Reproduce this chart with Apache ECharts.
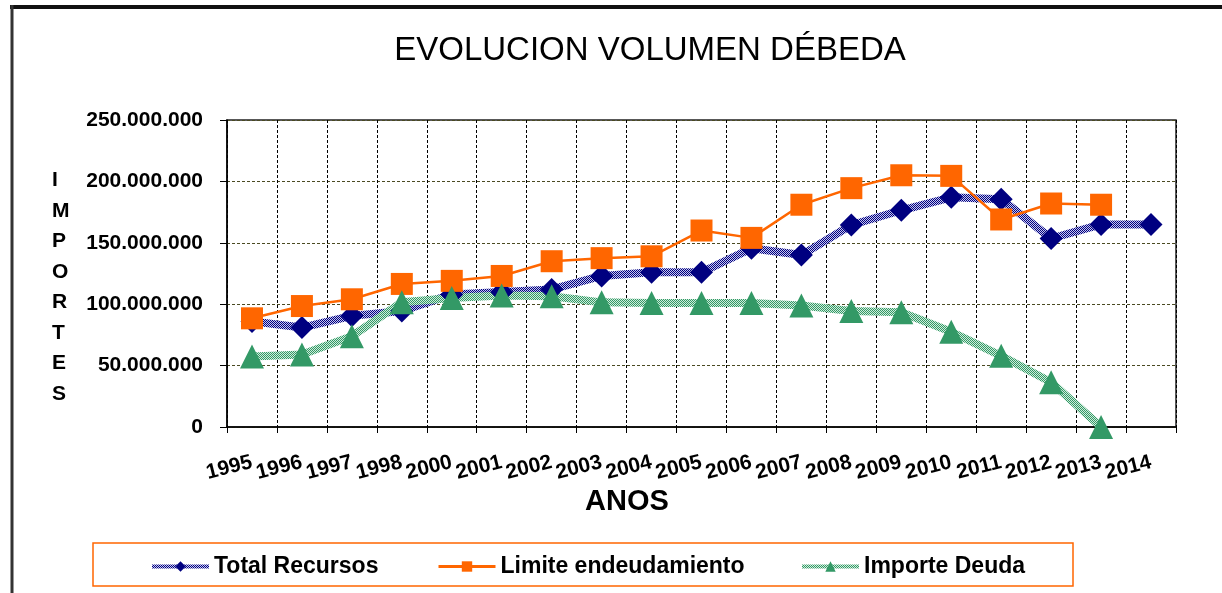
<!DOCTYPE html>
<html>
<head>
<meta charset="utf-8">
<script src="https://cdn.jsdelivr.net/npm/echarts@6/dist/echarts.min.js"></script>
<style>
  html, body { margin: 0; padding: 0; background: #fff; }
  #chart { width: 1222px; height: 593px; }
</style>
</head>
<body>
<div id="chart"></div>
<script>
// categorias (falta 1999 en el original)
var categories = ['1995', '1996', '1997', '1998', '2000', '2001', '2002', '2003', '2004', '2005',
  '2006', '2007', '2008', '2009', '2010', '2011', '2012', '2013', '2014'];

var totalRecursos = [86000000, 81000000, 90500000, 94500000, 108000000, 110000000, 112000000, 123000000,
  126000000, 126000000, 145500000, 140000000, 164500000, 176500000, 187000000, 185500000, 153500000,
  165000000, 165000000];

var limiteEndeudamiento = [88500000, 98500000, 104000000, 116500000, 119000000, 123000000, 135000000,
  137500000, 139000000, 160000000, 154000000, 181000000, 194500000, 205000000, 204500000, 169000000,
  182000000, 181000000, null];

var importeDeuda = [57500000, 59000000, 74000000, 101500000, 105000000, 107000000, 106500000, 101500000,
  101000000, 101000000, 101000000, 99000000, 94500000, 93500000, 77500000, 58000000, 36500000, 0, null];

var yTicks = [0, 50000000, 100000000, 150000000, 200000000, 250000000];

// trama rayada para las lineas gruesas
function trama(c1, c2) {
  var cv = document.createElement('canvas');
  cv.width = 4; cv.height = 4;
  var ctx = cv.getContext('2d');
  ctx.fillStyle = c2;
  ctx.fillRect(0, 0, 4, 4);
  ctx.fillStyle = c1;
  for (var i = 0; i < 4; i++) {
    for (var j = 0; j < 4; j++) {
      if ((i + j) % 2 === 0) ctx.fillRect(i, j, 1, 1);
    }
  }
  return { image: cv, repeat: 'repeat' };
}

function puntos(v) {
  return String(v).replace(/\B(?=(\d{3})+(?!\d))/g, '.');
}

var myChart = echarts.init(document.getElementById('chart'));
var font = '"Liberation Sans", Arial, sans-serif';
var legendText = { fontFamily: font, fontSize: 23, fontWeight: 'bold', color: '#000' };

myChart.setOption({
  animation: false,
  title: {
    text: 'EVOLUCION VOLUMEN DÉBEDA',
    left: 645,
    textAlign: 'center',
    top: 29,
    textStyle: { fontFamily: font, fontSize: 33, fontWeight: 'normal', color: '#000' }
  },
  legend: [
    { data: ['Total Recursos'], left: 150, top: 555, padding: 0, itemWidth: 57, itemHeight: 13,
      lineStyle: { width: 4 }, textStyle: legendText },
    { data: ['Limite endeudamiento'], left: 437, top: 555, padding: 0, itemWidth: 57, itemHeight: 13,
      lineStyle: { width: 3 }, textStyle: legendText },
    { data: ['Importe Deuda'], left: 800, top: 555, padding: 0, itemWidth: 57, itemHeight: 13,
      lineStyle: { width: 4 }, textStyle: legendText }
  ],
  grid: {
    left: 227, right: 46, top: 120, bottom: 166,
    show: true, borderColor: '#222', borderWidth: 1.5, backgroundColor: 'transparent'
  },
  xAxis: {
    type: 'category',
    data: categories,
    boundaryGap: true,
    axisLine: { lineStyle: { color: '#000', width: 1.5 } },
    axisTick: { show: true, length: 6, interval: 0, lineStyle: { color: '#000' } },
    axisLabel: {
      interval: 0, rotate: 14, margin: 35,
      fontFamily: font, fontSize: 21, fontWeight: 'bold', color: '#000'
    },
    splitLine: { show: true, interval: 0, lineStyle: { color: '#000', type: [3, 2], width: 1 } }
  },
  yAxis: {
    type: 'value',
    min: yTicks[0],
    max: yTicks[yTicks.length - 1],
    interval: 50000000,
    axisLine: { show: true, lineStyle: { color: '#000', width: 1.5 } },
    axisTick: { show: true, length: 7, lineStyle: { color: '#000' } },
    axisLabel: {
      margin: 24, fontFamily: font, fontSize: 21, fontWeight: 'bold', color: '#000',
      formatter: function (v) { return puntos(v); }
    },
    splitLine: { show: true, lineStyle: { color: '#4a4a22', type: [3, 2], width: 1 } }
  },
  graphic: [
    // marco exterior
    { type: 'line', shape: { x1: 10, y1: 7, x2: 1222, y2: 7 }, style: { stroke: '#111', lineWidth: 4 } },
    { type: 'line', shape: { x1: 12, y1: 5, x2: 12, y2: 593 }, style: { stroke: '#333', lineWidth: 3 } },
    // caja de la leyenda
    { type: 'rect', z: -1, shape: { x: 93, y: 543, width: 980, height: 43 },
      style: { fill: '#fff', stroke: '#FF6600', lineWidth: 1.5 } },
    { type: 'text', left: 52, top: 165,
      style: { text: 'I\nM\nP\nO\nR\nT\nE\nS', font: 'bold 21px ' + font, fill: '#000',
        align: 'center', lineHeight: 30.5, width: 20 } },
    { type: 'text', left: 585, top: 487,
      style: { text: 'ANOS', font: 'bold 29px ' + font, fill: '#000' } }
  ],
  series: [
    {
      name: 'Total Recursos',
      type: 'line',
      data: totalRecursos,
      symbol: 'diamond',
      symbolSize: 23,
      itemStyle: { color: '#000080' },
      lineStyle: { color: trama('#000080', '#c8c8ee'), width: 8 }
    },
    {
      name: 'Limite endeudamiento',
      type: 'line',
      data: limiteEndeudamiento,
      symbol: 'rect',
      symbolSize: 22,
      itemStyle: { color: '#FF6600' },
      lineStyle: { color: '#FF6600', width: 2.5 }
    },
    {
      name: 'Importe Deuda',
      type: 'line',
      data: importeDeuda,
      symbol: 'triangle',
      symbolSize: 24,
      itemStyle: { color: '#339966' },
      lineStyle: { color: trama('#339966', '#d0ecdc'), width: 8 }
    }
  ]
});
</script>
</body>
</html>
